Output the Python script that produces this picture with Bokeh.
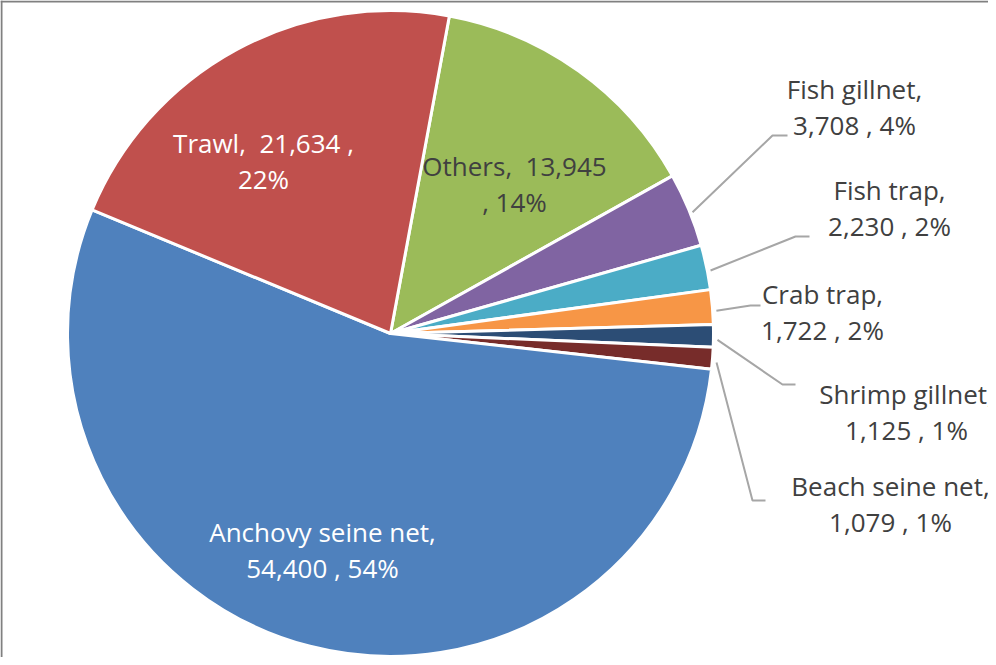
import numpy as np
from bokeh.plotting import figure
from bokeh.models import Range1d, Span, ColumnDataSource
from bokeh.core.properties import value
from bokeh.embed import file_html
from bokeh.resources import INLINE

# ---- data (clockwise order as drawn) ----
categories = ["Others", "Fish gillnet", "Fish trap", "Crab trap",
              "Shrimp gillnet", "Beach seine net", "Anchovy seine net", "Trawl"]
catch = [13945, 3708, 2230, 1722, 1125, 1079, 54400, 21634]
colors = ["#9BBB59", "#8064A2", "#4BACC6", "#F79646",
          "#2C4D75", "#772C2A", "#4F81BD", "#C0504D"]

# ---- layout ----
CX, CY, R = 398, -341, 323          # pie centre / radius (data = screen px, y up)
FIRST_ANGLE = 10.5                  # degrees clockwise from 12 o'clock
FONT = "Open Sans"
FONT_SIZE = "26px"
DARK = "#404040"
NB = "\u00a0"

# label block centres (screen px) and wrap style
label_layout = {
    "Others":            dict(pos=(522, 191), wrap="value", color=DARK, inside=True),
    "Fish gillnet":      dict(pos=(862, 114), wrap="name", color=DARK, elbow=(780, 143), end=(795, 143)),
    "Fish trap":         dict(pos=(897, 215), wrap="name", color=DARK, elbow=(803, 244), end=(817, 244)),
    "Crab trap":         dict(pos=(830, 319), wrap="name", color=DARK, elbow=(758, 313), end=(768, 313)),
    "Shrimp gillnet":    dict(pos=(914, 419), wrap="name", color=DARK, elbow=(790, 392), end=(803, 392)),
    "Beach seine net":   dict(pos=(898, 511), wrap="name", color=DARK, elbow=(760, 508), end=(773, 508)),
    "Anchovy seine net": dict(pos=(330, 557), wrap="name", color="white", inside=True),
    "Trawl":             dict(pos=(271, 168), wrap="value", color="white", inside=True),
}

total = float(sum(catch))
fracs = [v / total for v in catch]
cum = np.concatenate([[0.0], np.cumsum(fracs)])
cw_start = FIRST_ANGLE + 360.0 * cum[:-1]
cw_end = FIRST_ANGLE + 360.0 * cum[1:]
# bokeh: counter-clockwise from +x
start_angle = np.radians(90.0 - cw_end)
end_angle = np.radians(90.0 - cw_start)

src = ColumnDataSource(dict(start=start_angle, end=end_angle, color=colors,
                            name=categories))

p = figure(width=988, height=657, x_range=Range1d(8, 996), y_range=Range1d(-665, -8),
           output_backend="svg", toolbar_location=None, min_border=0)
p.axis.visible = False
p.grid.visible = False
p.outline_line_color = None
p.background_fill_color = "white"
p.border_fill_color = "white"

p.wedge(x=CX, y=CY, radius=R, start_angle="start", end_angle="end",
        fill_color="color", line_color="white", line_width=3, source=src)

# frame (left + top edges visible in the reference)
p.add_layout(Span(location=9, dimension="height", line_color="#808080", line_width=2))
p.add_layout(Span(location=-9, dimension="width", line_color="#808080", line_width=2))

# labels
lx, ly, lt, lc = [], [], [], []
xs, ys = [], []
for name, v, f, a0, a1 in zip(categories, catch, fracs, cw_start, cw_end):
    lay = label_layout[name]
    pct = int(round(f * 100))
    if lay["wrap"] == "name":
        txt = f"{name},\n{v:,} , {pct}%"
    else:
        if name == "Trawl":
            txt = f"{name},{NB} {v:,} ,\n{pct}%"
        else:
            txt = f"{name},{NB} {v:,}\n, {pct}%"
    px, py = lay["pos"]
    lx.append(px); ly.append(-py); lt.append(txt); lc.append(lay["color"])
    if not lay.get("inside"):
        mid = np.radians((a0 + a1) / 2.0)
        sx = CX + (R + 4) * np.sin(mid)
        sy = CY + (R + 4) * np.cos(mid) - 4
        ex, ey = lay["elbow"]
        fx, fy = lay["end"]
        xs.append([sx, ex, fx]); ys.append([sy, -ey, -fy])

p.multi_line(xs=xs, ys=ys, line_color="#A6A6A6", line_width=2)

p.text(x=lx, y=ly, text=lt, text_color=lc, text_align="center", text_baseline="middle",
       text_font=value(FONT), text_font_size=FONT_SIZE, text_line_height=1.0)

open("out.html", "w").write(file_html(p, INLINE))
